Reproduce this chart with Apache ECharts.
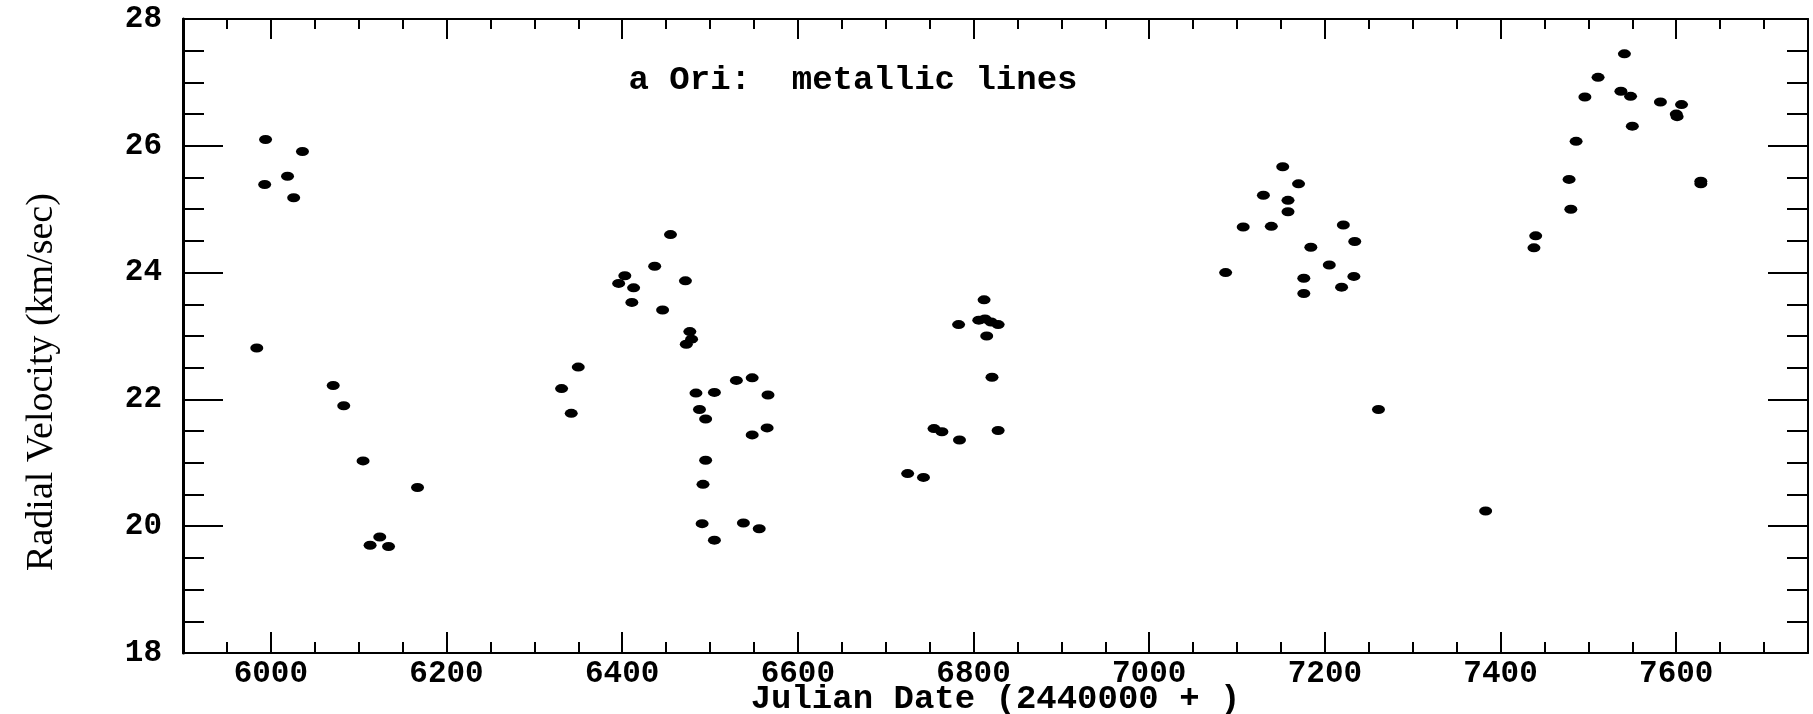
<!DOCTYPE html>
<html>
<head>
<meta charset="utf-8">
<script src="https://cdn.jsdelivr.net/npm/echarts@6/dist/echarts.min.js"></script>
<style>
  html, body { margin: 0; padding: 0; background: #fff; }
  #chart { width: 1813px; height: 714px; }
</style>
</head>
<body>
<div id="chart"></div>
<script>
// Julian Date (2440000 +)
const julianDate = [
  5984, 5993, 5994, 6019, 6026, 6036, 6071, 6083, 6105, 6113, 6124, 6134, 6167,
  6331, 6342, 6350, 6396, 6403, 6413, 6411, 6437, 6446, 6455, 6472, 6477, 6479, 6473,
  6484, 6488, 6495, 6495, 6492, 6491, 6505, 6505, 6530, 6548, 6548, 6538, 6556, 6566, 6565,
  6725, 6743, 6755, 6764, 6784, 6783, 6806, 6812, 6813, 6820, 6828, 6815, 6821, 6828,
  7087, 7107, 7130, 7139, 7152, 7158, 7158, 7170, 7176, 7176, 7184, 7205, 7219, 7221, 7233, 7234,
  7261, 7383,
  7438, 7440, 7480, 7478, 7486, 7496, 7511, 7537, 7541, 7548, 7550, 7582, 7606, 7600, 7601, 7628, 7628
];
// Radial velocity (km/sec)
const radialVelocity = [
  22.81, 25.39, 26.10, 25.52, 25.18, 25.91, 22.22, 21.90, 21.03, 19.70, 19.83, 19.68, 20.61,
  22.17, 21.78, 22.51, 23.83, 23.95, 23.76, 23.53, 24.10, 23.41, 24.60, 23.87, 23.07, 22.95, 22.87,
  22.10, 21.84, 21.69, 21.04, 20.66, 20.04, 19.78, 22.11, 22.30, 22.34, 21.44, 20.05, 19.96, 22.07, 21.55,
  20.83, 20.77, 21.54, 21.49, 21.36, 23.18, 23.25, 23.57, 23.27, 23.22, 23.18, 23.00, 22.35, 21.51,
  24.00, 24.72, 25.22, 24.73, 25.67, 25.14, 24.96, 25.40, 23.91, 23.67, 24.40, 24.12, 23.77, 24.75, 23.94, 24.49,
  21.84, 20.24,
  24.39, 24.58, 25.00, 25.47, 26.07, 26.77, 27.08, 26.86, 27.45, 26.78, 26.31, 26.69, 26.65, 26.50, 26.46, 25.44, 25.40
];
const xTickLabels = [6000, 6200, 6400, 6600, 6800, 7000, 7200, 7400, 7600];
const xMin = 5900, xMax = 7750;
const yMin = 18, yMax = 28;
const titleText = 'a Ori:  metallic lines';
const xName = 'Julian Date (2440000 + )';
const yName = 'Radial Velocity (km/sec)';

const points = julianDate.map((d, i) => [d, radialVelocity[i]]);
const monoFont = '"Liberation Mono", "DejaVu Sans Mono", monospace';
const black = '#000';
const plain = v => String(v);

const chart = echarts.init(document.getElementById('chart'), null, { renderer: 'canvas' });

function minorX(position, len) {
  return {
    type: 'value', gridIndex: 0, position: position, min: xMin, max: xMax, interval: 50,
    axisLine: { show: true, onZero: false, lineStyle: { color: black, width: 2 } },
    axisTick: { show: true, inside: true, length: len, lineStyle: { color: black, width: 2 } },
    axisLabel: { show: false }, splitLine: { show: false }
  };
}
function majorX(position, len, labels) {
  const ax = {
    type: 'value', gridIndex: 0, position: position, min: xMin, max: xMax,
    axisLine: { show: false, onZero: false },
    axisTick: { show: true, inside: true, length: len, customValues: xTickLabels,
                lineStyle: { color: black, width: 2 } },
    axisLabel: { show: false }, splitLine: { show: false }
  };
  if (labels) {
    ax.axisLabel = { show: true, customValues: xTickLabels, margin: 6, color: black,
                     formatter: plain,
                     fontFamily: monoFont, fontSize: 31, fontWeight: 'bold' };
    ax.name = xName;
    ax.nameLocation = 'middle';
    ax.nameGap = 29;
    ax.nameMoveOverlap = false;
    ax.nameTextStyle = { color: black, fontFamily: monoFont, fontSize: 34, fontWeight: 'bold' };
  }
  return ax;
}
function yAx(position, labels) {
  return {
    type: 'value', gridIndex: 0, position: position, min: yMin, max: yMax, interval: 2,
    axisLine: { show: true, onZero: false, lineStyle: { color: black, width: position === 'left' ? 3 : 2 } },
    axisTick: { show: true, inside: true, length: 40, lineStyle: { color: black, width: 2 } },
    minorTick: { show: true, splitNumber: 4, length: 21, lineStyle: { color: black, width: 2 } },
    axisLabel: labels ? { show: true, margin: 21, color: black, fontFamily: monoFont,
                          formatter: plain, fontSize: 31, fontWeight: 'bold' } : { show: false },
    splitLine: { show: false }, minorSplitLine: { show: false }
  };
}

chart.setOption({
  animation: false,
  backgroundColor: '#fff',
  grid: { left: 183, right: 5, top: 19, bottom: 61, containLabel: false, outerBoundsMode: 'none' },
  xAxis: [
    minorX('bottom', 11),
    majorX('bottom', 21, true),
    minorX('top', 10),
    majorX('top', 20, false)
  ],
  yAxis: [yAx('left', true), yAx('right', false)],
  graphic: [
    { type: 'text', x: 853, y: 80, silent: true,
      style: { text: titleText, fill: black, fontFamily: monoFont, fontSize: 34,
               fontWeight: 'bold', align: 'center', verticalAlign: 'middle' } },
    { type: 'text', x: 42, y: 382, rotation: Math.PI / 2, silent: true,
      style: { text: yName, fill: black, fontFamily: '"Liberation Serif", "DejaVu Serif", serif',
               fontSize: 38, align: 'center', verticalAlign: 'middle' } }
  ],
  series: [{
    type: 'scatter', xAxisIndex: 0, yAxisIndex: 0,
    data: points, symbol: 'circle', symbolSize: [13, 9],
    itemStyle: { color: black, opacity: 1 }
  }]
});
</script>
</body>
</html>
